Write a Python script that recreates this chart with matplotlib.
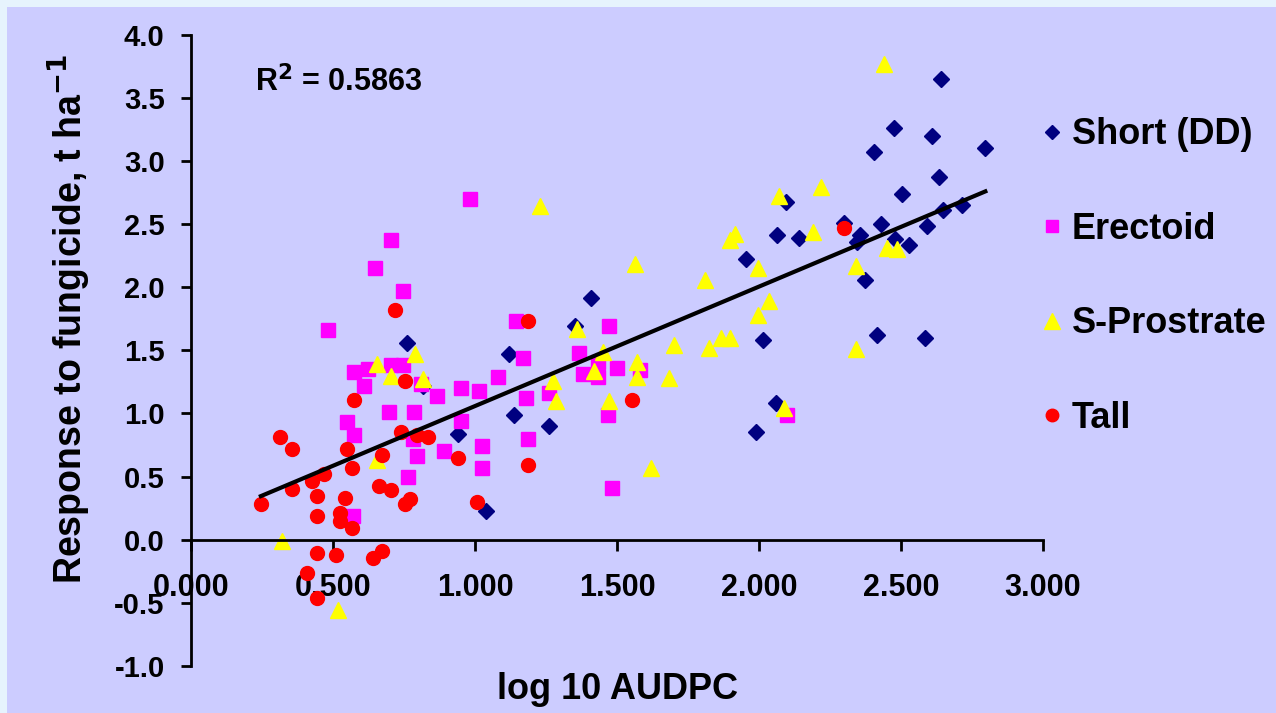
import numpy as np
import matplotlib
matplotlib.use('Agg')
import matplotlib.pyplot as plt
from matplotlib.patches import Rectangle
from matplotlib.lines import Line2D

plt.rcParams['font.family'] = ['Liberation Sans', 'DejaVu Sans']
plt.rcParams['font.weight'] = 'bold'

# log10 AUDPC (x) and response to fungicide (y) per height class
short_x = [0.762, 0.941, 1.039, 1.121, 1.137, 1.261, 1.352, 1.408, 1.954, 1.990,
           2.013, 2.060, 2.062, 2.095, 2.142, 2.298, 2.344, 2.356, 2.373, 2.405,
           2.414, 2.430, 2.475, 2.479, 2.502, 2.527, 2.585, 2.590, 2.609, 2.635,
           2.641, 2.649, 2.716, 2.797, 0.818]
short_y = [1.56, 0.84, 0.23, 1.47, 0.99, 0.90, 1.69, 1.91, 2.22, 0.85,
           1.58, 1.085, 2.41, 2.67, 2.39, 2.51, 2.36, 2.415, 2.06, 3.07,
           1.62, 2.50, 3.26, 2.38, 2.74, 2.336, 1.60, 2.48, 3.195, 2.87,
           3.65, 2.61, 2.65, 3.105, 1.22]

erect_x = [0.483, 0.548, 0.572, 0.574, 0.574, 0.610, 0.622, 0.648, 0.696, 0.704,
           0.704, 0.745, 0.745, 0.763, 0.783, 0.786, 0.795, 0.810, 0.867, 0.892,
           0.950, 0.950, 0.982, 1.015, 1.024, 1.024, 1.081, 1.144, 1.170, 1.180,
           1.188, 1.260, 1.367, 1.382, 1.432, 1.434, 1.467, 1.473, 1.481, 1.499,
           1.580, 2.100]
erect_y = [1.66, 0.93, 0.19, 0.83, 1.33, 1.215, 1.35, 2.15, 1.01, 1.38,
           2.37, 1.385, 1.97, 0.50, 0.795, 1.01, 0.66, 1.235, 1.14, 0.70,
           1.20, 0.94, 2.70, 1.18, 0.74, 0.57, 1.29, 1.73, 1.435, 1.125,
           0.795, 1.16, 1.475, 1.31, 1.41, 1.29, 0.99, 1.69, 0.41, 1.36,
           1.34, 0.99]

prost_x = [0.319, 0.516, 0.654, 0.655, 0.703, 0.790, 0.818, 1.229, 1.276, 1.285,
           1.358, 1.420, 1.449, 1.473, 1.563, 1.569, 1.571, 1.620, 1.684, 1.702,
           1.810, 1.825, 1.865, 1.898, 1.898, 1.915, 1.995, 1.995, 2.036, 2.070,
           2.088, 2.190, 2.217, 2.340, 2.340, 2.440, 2.452, 2.487]
prost_y = [-0.01, -0.56, 0.63, 1.395, 1.30, 1.47, 1.27, 2.64, 1.255, 1.10,
           1.665, 1.335, 1.49, 1.10, 2.18, 1.41, 1.29, 0.57, 1.28, 1.545,
           2.06, 1.52, 1.60, 1.60, 2.37, 2.42, 1.78, 2.15, 1.89, 2.72,
           1.045, 2.44, 2.79, 2.17, 1.51, 3.77, 2.31, 2.30]

tall_x = [0.246, 0.313, 0.354, 0.354, 0.410, 0.427, 0.442, 0.442, 0.442, 0.442,
          0.468, 0.509, 0.525, 0.525, 0.542, 0.548, 0.566, 0.566, 0.574, 0.640,
          0.663, 0.671, 0.673, 0.704, 0.720, 0.738, 0.754, 0.754, 0.771, 0.797,
          0.836, 0.941, 1.006, 1.188, 1.188, 1.554, 2.298]
tall_y = [0.28, 0.81, 0.72, 0.40, -0.265, 0.465, 0.35, 0.19, -0.107, -0.46,
          0.52, -0.12, 0.215, 0.15, 0.33, 0.72, 0.57, 0.096, 1.105, -0.146,
          0.425, -0.09, 0.67, 0.39, 1.82, 0.85, 1.255, 0.28, 0.32, 0.826,
          0.81, 0.645, 0.30, 1.73, 0.59, 1.105, 2.465]

r2_text = 'R$^2$ = 0.5863'

bg = '#CCCCFF'
fig = plt.figure(figsize=(12.76, 7.13), dpi=100, facecolor='#E6F3FD')
fig.patches.append(Rectangle((7 / 1276, 0), 1, 1 - 7 / 713, transform=fig.transFigure,
                             facecolor=bg, edgecolor='none', zorder=-10))
ax = fig.add_axes([0.1497, 0.0659, 0.6677, 0.8857])
ax.set_facecolor('none')

ax.plot(short_x, short_y, ls='none', marker='D', ms=7.8, color='#000080', mec='#000080')
ax.plot(erect_x, erect_y, ls='none', marker='s', ms=10, color='#FF00FF', mec='#FF00FF')
ax.plot(prost_x, prost_y, ls='none', marker='^', ms=11, color='#FFFF00', mec='#FFFF00')
ax.plot(tall_x, tall_y, ls='none', marker='o', ms=10, color='#FF0000', mec='#FF0000')

# linear trend over all groups
all_x = np.array(short_x + erect_x + prost_x + tall_x)
all_y = np.array(short_y + erect_y + prost_y + tall_y)
k, b = np.polyfit(all_x, all_y, 1)
fx = np.array([all_x.min(), all_x.max()])
ax.plot(fx, k * fx + b, color='black', lw=3)

ax.set_xlim(0, 3)
ax.set_ylim(-1, 4)
ax.set_xticks(np.arange(0, 3.01, 0.5))
ax.set_yticks(np.arange(-1, 4.01, 0.5))
ax.xaxis.set_major_formatter(matplotlib.ticker.FormatStrFormatter('%.3f'))
ax.yaxis.set_major_formatter(matplotlib.ticker.FormatStrFormatter('%.1f'))
for s in ['top', 'right']:
    ax.spines[s].set_visible(False)
ax.spines['bottom'].set_position(('data', 0))
ax.spines['left'].set_linewidth(2)
ax.spines['bottom'].set_linewidth(2)
ax.tick_params(axis='x', direction='out', length=8, width=2, pad=16, labelsize=22)
ax.tick_params(axis='y', direction='out', length=7, width=2, pad=12, labelsize=21)

ax.set_xlabel('log 10 AUDPC', fontsize=26, fontweight='bold')
ax.xaxis.set_label_coords(0.5, -0.01)
ax.set_ylabel('Response to fungicide, t ha$^{\\mathbf{-1}}$', fontsize=27, fontweight='bold')
ax.yaxis.set_label_coords(-0.115, 0.55)

ax.text(0.075, 0.925, r2_text, transform=ax.transAxes, fontsize=22, fontweight='bold',
        va='center', ha='left')

handles = [Line2D([], [], ls='none', marker='D', ms=7, color='#000080'),
           Line2D([], [], ls='none', marker='s', ms=9, color='#FF00FF'),
           Line2D([], [], ls='none', marker='^', ms=11, color='#FFFF00'),
           Line2D([], [], ls='none', marker='o', ms=9, color='#FF0000')]
ax.legend(handles, ['Short (DD)', 'Erectoid', 'S-Prostrate', 'Tall'],
          loc='upper left', bbox_to_anchor=(0.999, 0.869), frameon=False,
          fontsize=26, labelspacing=1.65, handlelength=0.55, handletextpad=0.28,
          borderaxespad=0, borderpad=0)

fig.savefig('out.png', dpi=100, facecolor=fig.get_facecolor())
